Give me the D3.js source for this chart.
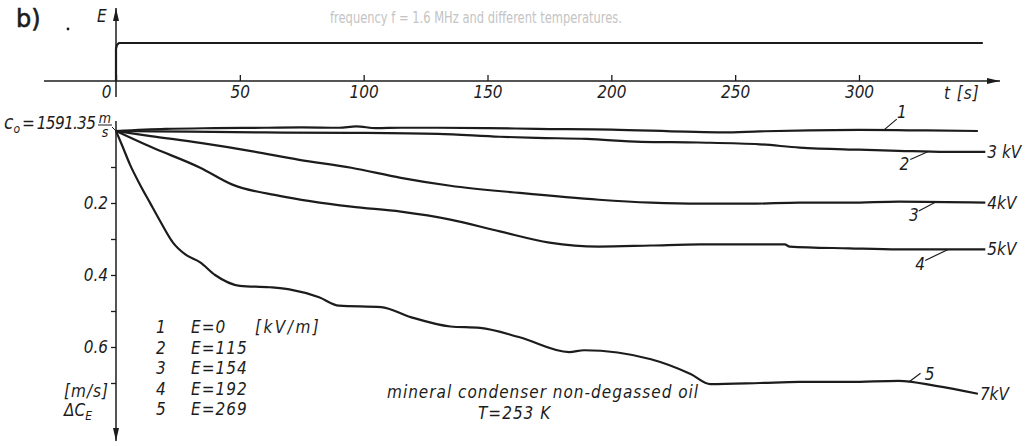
<!DOCTYPE html>
<html>
<head>
<meta charset="utf-8">
<script src="https://cdn.jsdelivr.net/npm/d3@7"></script>
<style>
  html, body { margin: 0; padding: 0; background: #fff; }
  svg { display: block; }
  text { font-family: "Liberation Sans Narrow", "DejaVu Sans Condensed", "Liberation Sans", sans-serif; font-style: italic; fill: #1c1c1c; font-size: 17px; }
  .wide { letter-spacing: 1px; }
  .bleed { font-style: normal; fill: #c4c4c4; font-family: "DejaVu Sans", sans-serif; font-size: 15px; }
  .panel { font-style: normal; font-size: 24px; font-family: "DejaVu Sans", sans-serif; stroke: #1c1c1c; stroke-width: 0.6px; }
</style>
</head>
<body>
<svg id="chart" width="1030" height="446"></svg>
<script>
// ---- data ----
const timeTicks = [0, 50, 100, 150, 200, 250, 300]
const deltaTicks = [0.1, 0.2, 0.3, 0.4, 0.5, 0.6, 0.7]
const deltaLabels = [0.2, 0.4, 0.6]

// applied field E(t): step switched on at t = 0 (relative units)
const timeE = [0, 0, 0.4, 1.2, 350]
const fieldE = [0, 0.85, 0.95, 1, 1]

// velocity drop dC_E [m/s] vs time t [s], one pair per curve
const time1 = [0, 20, 40, 60, 75, 90, 97, 105, 115, 130, 150, 170, 200, 230, 245, 260, 280, 300, 320, 348]
const delta1 = [0, -0.006, -0.008, -0.009, -0.010, -0.009, -0.013, -0.008, -0.009, -0.009, -0.008, -0.006, -0.004, 0.002, 0.004, 0.001, -0.002, -0.003, -0.002, 0]
const time2 = [0, 30, 60, 95, 130, 155, 170, 190, 212, 235, 260, 276, 300, 316, 335, 351]
const delta2 = [0, 0.002, 0.004, 0.005, 0.008, 0.016, 0.019, 0.022, 0.030, 0.032, 0.037, 0.046, 0.052, 0.055, 0.058, 0.058]
const time3 = [0, 14, 34, 54, 74, 95, 115, 135, 163, 195, 216, 236, 256, 276, 296, 316, 351]
const delta3 = [0, 0.014, 0.033, 0.055, 0.080, 0.102, 0.130, 0.152, 0.172, 0.191, 0.199, 0.202, 0.202, 0.199, 0.199, 0.196, 0.199]
const time4 = [0, 14, 34, 47, 66, 95, 115, 135, 155, 175, 195, 216, 236, 270, 272, 296, 316, 351]
const delta4 = [0, 0.044, 0.102, 0.149, 0.180, 0.210, 0.224, 0.246, 0.279, 0.310, 0.321, 0.318, 0.315, 0.315, 0.321, 0.326, 0.329, 0.329]
const time5 = [0, 2.4, 5.7, 9.7, 13.7, 17.8, 23, 28, 34, 40, 50, 62, 70, 82, 90, 107, 119, 135, 147, 163, 183, 189, 216, 232, 240, 260, 276, 296, 316, 331, 348]
const delta5 = [0, 0.039, 0.094, 0.149, 0.199, 0.25, 0.310, 0.343, 0.365, 0.400, 0.430, 0.434, 0.440, 0.462, 0.485, 0.489, 0.517, 0.543, 0.547, 0.573, 0.614, 0.609, 0.634, 0.675, 0.703, 0.700, 0.697, 0.697, 0.694, 0.708, 0.730]

const curveIds = ['1', '2', '3', '4', '5']
const fieldValues = ['0', '115', '154', '192', '269']
const voltageLabels = ['', '3 kV', '4kV', '5kV', '7kV']
// where the numbered leader touches each curve [s]
const leaderTimes = [310, 328, 331, 336, 320]

const series = curveIds.map((id, i) => ({
  id,
  field: fieldValues[i],
  voltage: voltageLabels[i],
  leaderT: leaderTimes[i],
  points: [time1, time2, time3, time4, time5][i].map((t, j) => [t, [delta1, delta2, delta3, delta4, delta5][i][j]]),
}))

// ---- layout ----
const INK = '#1c1c1c'
const svg = d3.select('#chart')
const x = d3.scaleLinear().domain([0, 300]).range([116, 859])
const yE = d3.scaleLinear().domain([0, 1]).range([81, 43])
const y = d3.scaleLinear().domain([0, 0.6]).range([131, 347])

// leader offsets (label side) per curve, px
const leaderStyle = [
  {dx: 13, dy: -11, lx: 18, ly: -12},
  {dx: -18, dy: 8, lx: -24, ly: 19},
  {dx: -17, dy: 9, lx: -22, ly: 19},
  {dx: -23, dy: 11, lx: -28, ly: 21},
  {dx: 12, dy: -9, lx: 21, ly: -2},
]

const defs = svg.append('defs')
defs.append('marker')
  .attr('id', 'arrow')
  .attr('viewBox', '0 0 13 6')
  .attr('refX', 13).attr('refY', 3)
  .attr('markerWidth', 13).attr('markerHeight', 6)
  .attr('markerUnits', 'userSpaceOnUse')
  .attr('orient', 'auto')
  .append('path').attr('d', 'M0,0L13,3L0,6Z').attr('fill', INK)

// faint print-through from the other side of the page
svg.append('text').attr('class', 'bleed').attr('x', 330).attr('y', 23)
  .attr('textLength', 292).attr('lengthAdjust', 'spacingAndGlyphs')
  .text('frequency  f = 1.6 MHz and different temperatures.')

svg.append('text').attr('class', 'panel').attr('x', 16).attr('y', 27).text('b)')
svg.append('circle').attr('cx', 68).attr('cy', 29).attr('r', 1.4).attr('fill', INK)

// ---- upper panel: E(t) ----
const axisLine = (x1, y1, x2, y2, arrow) => {
  const l = svg.append('line')
    .attr('x1', x1).attr('y1', y1).attr('x2', x2).attr('y2', y2)
    .attr('stroke', INK).attr('stroke-width', 1.5)
  if (arrow) l.attr('marker-end', 'url(#arrow)')
  return l
}

axisLine(44, yE(0), 1000, yE(0), true)
axisLine(x(0), yE(0), x(0), 8, true)
axisLine(x(0), yE(0), x(0), 97)

const xAxis = svg.append('g')
  .attr('transform', `translate(0,${yE(0)})`)
  .style('color', INK)
  .call(d3.axisBottom(x).tickValues(timeTicks).tickSizeInner(-6).tickSizeOuter(0).tickPadding(5))
xAxis.select('.domain').remove()
xAxis.selectAll('line').attr('stroke-width', 1.3)
xAxis.selectAll('text').filter(d => d === 0).attr('dx', -10)

svg.append('text').attr('class', 'wide').attr('x', 944).attr('y', 99).text('t [s]')
svg.append('text').attr('x', 97).attr('y', 22).text('E')

svg.append('path')
  .datum(timeE.map((t, i) => [t, fieldE[i]]))
  .attr('fill', 'none').attr('stroke', INK).attr('stroke-width', 2.2)
  .attr('d', d3.line().x(d => x(d[0])).y(d => yE(d[1])))

// ---- lower panel: velocity drop ----
axisLine(x(0), 121, x(0), 441, true)

const yAxis = svg.append('g')
  .attr('transform', `translate(${x(0)},0)`)
  .style('color', INK)
  .call(d3.axisLeft(y).tickValues(deltaTicks).tickSize(5).tickPadding(3)
    .tickFormat(d => deltaLabels.some(v => Math.abs(v - d) < 1e-9) ? d3.format('.1f')(d) : ''))
yAxis.select('.domain').remove()
yAxis.selectAll('line').attr('stroke-width', 1.3)

// c0 label
const c0 = svg.append('text').attr('x', 4).attr('y', 129).style('font-size', '17px')
c0.append('tspan').style('font-size', '19px').text('c')
c0.append('tspan').attr('dy', 4).style('font-size', '12px').text('o')
c0.append('tspan').attr('dy', -4).attr('dx', 2).text('=')
c0.append('tspan').attr('dx', 2).style('letter-spacing', '-0.7px').text('1591.35')
svg.append('text').attr('x', 105).attr('y', 123).attr('text-anchor', 'middle').style('font-size', '14px').text('m')
svg.append('line').attr('x1', 98).attr('x2', 112).attr('y1', 125).attr('y2', 125).attr('stroke', INK).attr('stroke-width', 1)
svg.append('text').attr('x', 105).attr('y', 137).attr('text-anchor', 'middle').style('font-size', '14px').text('s')
axisLine(112, 127, x(0), y(0)).attr('stroke-width', 1)

svg.append('text').attr('class', 'wide').attr('x', 109).attr('y', 397).attr('text-anchor', 'end').text('[m/s]')
const dcLabel = svg.append('text').attr('x', 64).attr('y', 416)
dcLabel.append('tspan').text('ΔC')
dcLabel.append('tspan').attr('dy', 4).style('font-size', '12px').text('E')

const line = d3.line().x(d => x(d[0])).y(d => y(d[1])).curve(d3.curveMonotoneX)

const valueAt = (points, t) => {
  const i = Math.max(1, d3.bisector(d => d[0]).left(points, t))
  const a = points[i - 1], b = points[i]
  return a[1] + (b[1] - a[1]) * (t - a[0]) / (b[0] - a[0])
}

const curves = svg.append('g').selectAll('g').data(series).join('g')

curves.append('path')
  .attr('fill', 'none').attr('stroke', INK).attr('stroke-width', 2.2)
  .attr('stroke-linejoin', 'round')
  .attr('d', d => line(d.points))

curves.filter(d => d.voltage).append('text')
  .attr('x', d => x(d.points[d.points.length - 1][0]) + 2)
  .attr('y', d => y(d.points[d.points.length - 1][1]) + 6)
  .text(d => d.voltage)

curves.each(function (d, i) {
  const g = d3.select(this)
  const s = leaderStyle[i]
  const px = x(d.leaderT)
  const py = y(valueAt(d.points, d.leaderT))
  g.append('line')
    .attr('x1', px).attr('y1', py).attr('x2', px + s.dx).attr('y2', py + s.dy)
    .attr('stroke', INK).attr('stroke-width', 1.2)
  g.append('text').attr('x', px + s.lx).attr('y', py + s.ly)
    .attr('text-anchor', 'middle').text(d.id)
})

// legend
const legend = svg.append('g')
series.forEach((d, i) => {
  const yy = 333 + i * 20.5
  legend.append('text').attr('x', 156).attr('y', yy).text(d.id)
  legend.append('text').attr('class', 'wide').attr('x', 191).attr('y', yy).text(`E=${d.field}`)
})
legend.append('text').attr('x', 255).attr('y', 333).style('letter-spacing', '2.5px').text('[kV/m]')

svg.append('text').attr('class', 'wide').attr('x', 387).attr('y', 398).text('mineral condenser non-degassed oil')
svg.append('text').attr('class', 'wide').attr('x', 478).attr('y', 419).text('T=253 K')
</script>
</body>
</html>
